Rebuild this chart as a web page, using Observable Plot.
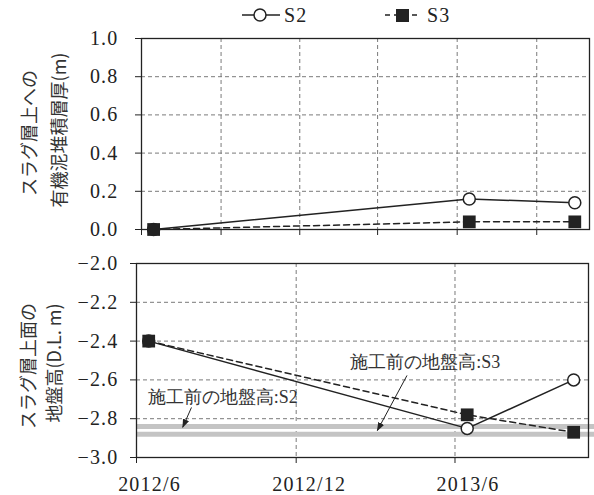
<!DOCTYPE html>
<html><head><meta charset="utf-8">
<script src="https://cdn.jsdelivr.net/npm/d3@7"></script>
<script src="https://cdn.jsdelivr.net/npm/@observablehq/plot@0.6"></script>
<style>
body{margin:0;background:#fff}
#wrap{position:relative;width:594px;height:495px;overflow:hidden;background:#fff}
.abs{position:absolute;left:0}
.ttl{position:absolute;font-family:"Noto Sans CJK JP";font-size:18px;color:#333;white-space:nowrap;transform:translate(-50%,-50%) rotate(-90deg);line-height:1}
.serif, .serif text{font-family:"Liberation Serif","Times New Roman","DejaVu Serif",serif !important}
.serif text.num, .serif .num text{letter-spacing:1.2px}
</style></head><body>
<div id="wrap">
  <svg class="abs serif" style="top:0" width="594" height="30" font-size="20" fill="#222">
    <line x1="242" x2="280" y1="15" y2="15" stroke="#222" stroke-width="1.5"/>
    <circle cx="260" cy="15" r="6" fill="#fff" stroke="#222" stroke-width="1.5"/>
    <text class="num" x="284" y="22">S2</text>
    <line x1="385" x2="419" y1="15" y2="15" stroke="#222" stroke-width="1.5" stroke-dasharray="5,4"/>
    <rect x="396" y="9" width="13" height="13" fill="#222"/>
    <text class="num" x="427" y="22">S3</text>
  </svg>
  <div id="top" class="abs serif" style="top:0"></div>
  <div id="bottom" class="abs serif" style="top:240px"></div>
  <div class="ttl" style="left:28px;top:133px">スラグ層上への</div>
  <div class="ttl" style="left:58px;top:130px">有機泥堆積層厚(m)</div>
  <div class="ttl" style="left:27px;top:366px">スラグ層上面の</div>
  <div class="ttl" style="left:53px;top:363px">地盤高(D.L. m)</div>
</div>
<script>
const surveyDates = ["2012-06-15", "2013-06-15", "2013-10-15"];
const s2Thickness = [0, 0.16, 0.14];
const s3Thickness = [0, 0.04, 0.04];
const s2Elevation = [-2.40, -2.85, -2.60];
const s3Elevation = [-2.40, -2.78, -2.87];
const preConstructionElevation = [-2.84, -2.88];
const xDomain = ["2012-06-01", "2013-11-01"];
const bandEnd = "2013-11-08";
const topXTicks = ["2012-06-01", "2012-09-01", "2012-12-01", "2013-03-01", "2013-06-01", "2013-09-01"];
const bottomXTicks = ["2012-06-01", "2012-12-01", "2013-06-01"];
const bottomXLabels = ["2012/6", "2012/12", "2013/6"];
const topYTicks = [0, 0.2, 0.4, 0.6, 0.8, 1.0];
const bottomYTicks = [-3.0, -2.8, -2.6, -2.4, -2.2, -2.0];
const annotationLabels = ["施工前の地盤高:S2", "施工前の地盤高:S3"];
const annotationTextX = ["2012-06-14", "2013-02-01"];
const annotationTextY = [-2.689, -2.51];
const arrowFromX = ["2012-08-03", "2013-04-07"];
const arrowFromY = [-2.742, -2.577];
const arrowToX = ["2012-07-24", "2013-03-04"];
const arrowToY = [-2.844, -2.861];

const D = s => new Date(s);
const rows = surveyDates.map((d, i) => ({
  date: D(d), s2t: s2Thickness[i], s3t: s3Thickness[i], s2e: s2Elevation[i], s3e: s3Elevation[i]
}));
const ann = annotationLabels.map((l, i) => ({
  label: l, x: D(annotationTextX[i]), y: annotationTextY[i],
  x1: D(arrowFromX[i]), y1: arrowFromY[i], x2: D(arrowToX[i]), y2: arrowToY[i]
}));
const fmt = d3.format(".1f");
const gridStyle = {stroke: "#7a7a7a", strokeOpacity: 1, strokeWidth: 1, strokeDasharray: "4,3"};
const ink = "#222";
const serifFamily = "'Liberation Serif', 'Times New Roman', 'DejaVu Serif', serif";
const baseStyle = {fontFamily: serifFamily, fontSize: "20px", color: ink, background: "transparent", overflow: "visible"};

function filledHead(color, context) {
  const ns = "http://www.w3.org/2000/svg";
  const doc = (context && context.document) || document;
  const m = doc.createElementNS(ns, "marker");
  m.setAttribute("viewBox", "-5 -5 10 10");
  m.setAttribute("markerWidth", "9");
  m.setAttribute("markerHeight", "9");
  m.setAttribute("markerUnits", "userSpaceOnUse");
  m.setAttribute("orient", "auto");
  m.setAttribute("refX", "4");
  m.setAttribute("refY", "0");
  const p = doc.createElementNS(ns, "path");
  p.setAttribute("d", "M-5,-3.6L5,0L-5,3.6Z");
  p.setAttribute("fill", color);
  p.setAttribute("stroke", "none");
  m.appendChild(p);
  return m;
}
let arrowMark;
try {
  arrowMark = Plot.link(ann, {x1: "x1", y1: "y1", x2: "x2", y2: "y2", stroke: ink, strokeWidth: 1, markerEnd: filledHead});
} catch (e) {
  arrowMark = Plot.arrow(ann, {x1: "x1", y1: "y1", x2: "x2", y2: "y2", stroke: ink, strokeWidth: 1, headLength: 9, headAngle: 40});
}

function yLabels(ticks, dx) {
  return Plot.text(ticks, {y: d => d, text: d => fmt(d), frameAnchor: "left", textAnchor: "end", lineAnchor: "middle", dx, fill: ink, fontSize: 20, fontFamily: serifFamily, className: "num"});
}

const topPlot = Plot.plot({
  width: 594, height: 240,
  marginLeft: 141, marginRight: 5, marginTop: 38, marginBottom: 11,
  style: baseStyle,
  x: {type: "utc", domain: xDomain.map(D), label: null},
  y: {domain: [0, 1], label: null},
  marks: [
    Plot.gridY(topYTicks.slice(1, -1), gridStyle),
    Plot.gridX(topXTicks.slice(1).map(D), gridStyle),
    Plot.frame({stroke: ink, strokeWidth: 1.3}),
    Plot.axisY({ticks: topYTicks, tickFormat: () => "", tickSize: 6, label: null, stroke: ink}),
    yLabels(topYTicks, -23),
    Plot.axisX({ticks: topXTicks.map(D), tickFormat: () => "", tickSize: 6, label: null, stroke: ink}),
    Plot.line(rows, {x: "date", y: "s2t", stroke: ink, strokeWidth: 1.5}),
    Plot.line(rows, {x: "date", y: "s3t", stroke: ink, strokeWidth: 1.5, strokeDasharray: "6,4"}),
    Plot.dot(rows, {x: "date", y: "s2t", r: 6, fill: "#fff", stroke: ink, strokeWidth: 1.5}),
    Plot.dot(rows, {x: "date", y: "s3t", r: 7.2, symbol: "square", fill: ink})
  ]
});
document.getElementById("top").appendChild(topPlot);

const bottomPlot = Plot.plot({
  width: 594, height: 255,
  marginLeft: 136, marginRight: 6, marginTop: 23, marginBottom: 38,
  style: baseStyle,
  x: {type: "utc", domain: xDomain.map(D), label: null},
  y: {domain: [-3, -2], label: null},
  marks: [
    Plot.gridY(bottomYTicks.slice(1, -1), gridStyle),
    Plot.gridX(bottomXTicks.slice(1).map(D), gridStyle),
    Plot.ruleY(preConstructionElevation, {x1: () => D(xDomain[0]), x2: () => D(bandEnd), stroke: "#c4c4c4", strokeWidth: 5, clip: false}),
    Plot.frame({stroke: ink, strokeWidth: 1.3}),
    Plot.axisY({ticks: bottomYTicks, tickFormat: () => "", tickSize: 6, label: null, stroke: ink}),
    yLabels(bottomYTicks, -18),
    Plot.axisX({ticks: bottomXTicks.map(D), tickFormat: () => "", tickSize: 6, label: null, stroke: ink}),
    Plot.text(bottomXTicks, {x: d => D(d), text: (d, i) => bottomXLabels[i], frameAnchor: "bottom", lineAnchor: "bottom", dy: 33, dx: 13, fill: ink, fontSize: 20, fontFamily: serifFamily, className: "num"}),
    Plot.line(rows, {x: "date", y: "s2e", stroke: ink, strokeWidth: 1.5}),
    Plot.line(rows, {x: "date", y: "s3e", stroke: ink, strokeWidth: 1.5, strokeDasharray: "6,4"}),
    Plot.dot(rows, {x: "date", y: "s2e", r: 6, fill: "#fff", stroke: ink, strokeWidth: 1.5}),
    Plot.dot(rows, {x: "date", y: "s3e", r: 7.2, symbol: "square", fill: ink}),
    arrowMark,
    Plot.text(ann, {x: "x", y: "y", text: "label", textAnchor: "start", fontFamily: "Noto Sans CJK JP", fontSize: 18, fill: "#333"})
  ]
});
document.getElementById("bottom").appendChild(bottomPlot);
</script>
</body></html>
